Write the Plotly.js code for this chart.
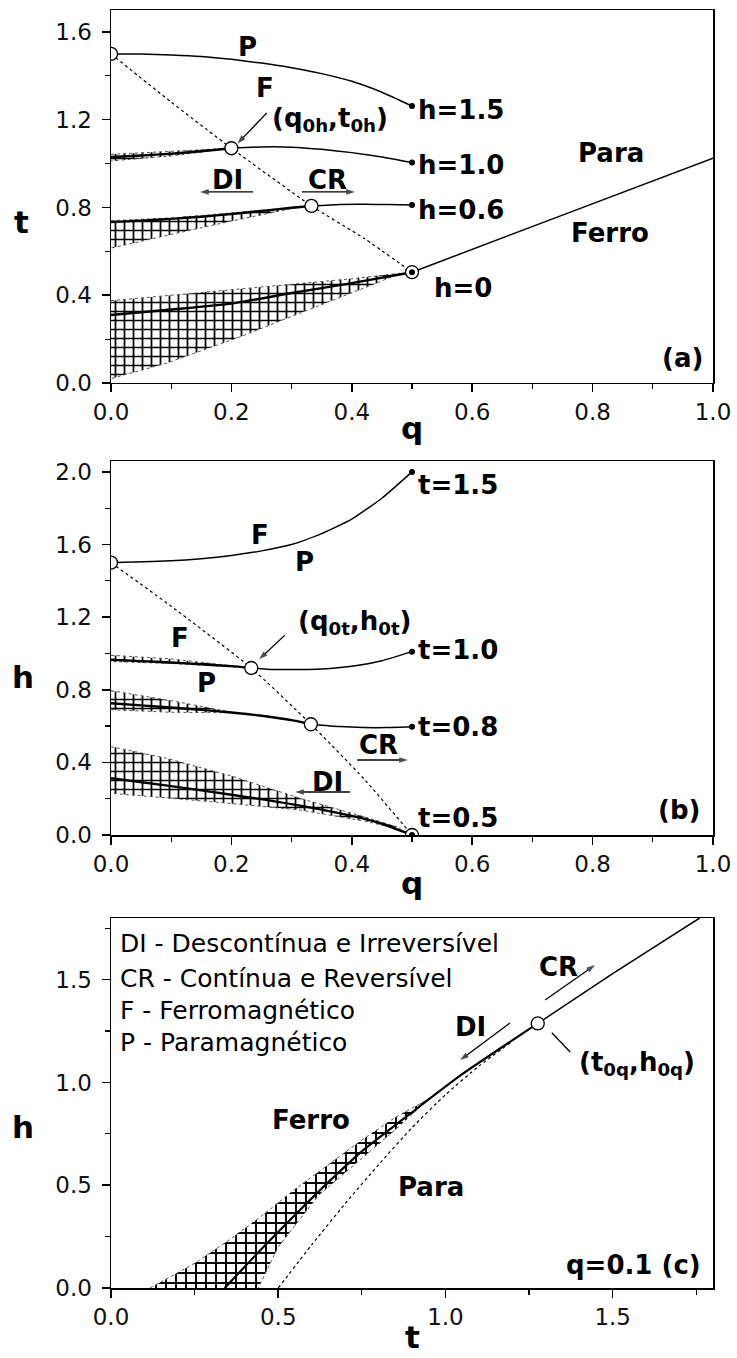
<!DOCTYPE html>
<html>
<head>
<meta charset="utf-8">
<script src="https://cdn.plot.ly/plotly-3.0.1.min.js"></script>
<style>
  html, body { margin: 0; padding: 0; background: #fff; }
  #chart { width: 737px; height: 1358px; }
</style>
</head>
<body>
<div id="chart"></div>
<script>
// ---------- Panel (a): t versus q for fixed h ----------
const qA_h15 = [0, 0.05, 0.1, 0.15, 0.2, 0.25, 0.3, 0.35, 0.4, 0.45, 0.5];
const tA_h15 = [1.5, 1.499, 1.495, 1.488, 1.475, 1.458, 1.437, 1.41, 1.375, 1.325, 1.262];

const qA_h10_DI = [0, 0.05, 0.1, 0.15, 0.2];
const tA_h10_DI = [1.03, 1.037, 1.045, 1.056, 1.07];
const qA_h10_CR = [0.2, 0.25, 0.3, 0.35, 0.4, 0.45, 0.5];
const tA_h10_CR = [1.07, 1.076, 1.075, 1.065, 1.05, 1.03, 1.005];

const qA_h06_DI = [0, 0.05, 0.1, 0.15, 0.2, 0.25, 0.3, 0.333];
const tA_h06_DI = [0.733, 0.74, 0.748, 0.758, 0.77, 0.784, 0.799, 0.807];
const qA_h06_CR = [0.333, 0.38, 0.42, 0.46, 0.5];
const tA_h06_CR = [0.807, 0.814, 0.815, 0.813, 0.811];

const qA_h0 = [0, 0.1, 0.2, 0.3, 0.4, 0.5];
const tA_h0 = [0.31, 0.335, 0.362, 0.41, 0.455, 0.505];

const qA_crit = [0.5, 0.75, 1.0];
const tA_crit = [0.505, 0.765, 1.025];

const qA_tric = [0, 0.1, 0.2, 0.333, 0.42, 0.5];
const tA_tric = [1.5, 1.28, 1.07, 0.807, 0.66, 0.505];

const qA_open = [0, 0.2, 0.333, 0.5];
const tA_open = [1.5, 1.07, 0.807, 0.505];
const qA_end = [0.5, 0.5, 0.5, 0.5];
const tA_end = [1.262, 1.005, 0.811, 0.505];

// hysteresis bands (upper edge left->right, then lower edge right->left)
const qA_band0 = [0, 0.1, 0.2, 0.3, 0.4, 0.48, 0.44, 0.369, 0.292, 0.214, 0.092, 0];
const tA_band0 = [0.375, 0.4, 0.425, 0.45, 0.475, 0.5, 0.454, 0.378, 0.295, 0.21, 0.09, 0.02];
const qA_band06 = [0, 0.1, 0.2, 0.3, 0.333, 0.3, 0.2, 0.1, 0];
const tA_band06 = [0.74, 0.752, 0.775, 0.8, 0.807, 0.795, 0.738, 0.677, 0.615];
const qA_band10 = [0, 0.1, 0.2, 0.1, 0];
const tA_band10 = [1.042, 1.055, 1.07, 1.035, 1.012];

// ---------- Panel (b): h versus q for fixed t ----------
const qB_t15 = [0, 0.1, 0.15, 0.2, 0.25, 0.3, 0.35, 0.4, 0.45, 0.5];
const hB_t15 = [1.5, 1.51, 1.522, 1.54, 1.565, 1.6, 1.66, 1.74, 1.855, 2.0];

const qB_t10_DI = [0, 0.05, 0.1, 0.15, 0.2, 0.233];
const hB_t10_DI = [0.965, 0.958, 0.95, 0.94, 0.93, 0.92];
const qB_t10_CR = [0.233, 0.27, 0.3, 0.35, 0.4, 0.45, 0.5];
const hB_t10_CR = [0.92, 0.912, 0.911, 0.915, 0.93, 0.96, 1.01];

const qB_t08_DI = [0, 0.05, 0.1, 0.15, 0.2, 0.25, 0.3, 0.332];
const hB_t08_DI = [0.726, 0.714, 0.702, 0.689, 0.675, 0.657, 0.633, 0.61];
const qB_t08_CR = [0.332, 0.38, 0.42, 0.46, 0.5];
const hB_t08_CR = [0.61, 0.597, 0.592, 0.592, 0.596];

const qB_t05 = [0, 0.1, 0.2, 0.3, 0.4, 0.45, 0.5];
const hB_t05 = [0.313, 0.269, 0.222, 0.17, 0.105, 0.062, 0.0];

const qB_tric = [0, 0.1, 0.233, 0.332, 0.42, 0.5];
const hB_tric = [1.5, 1.26, 0.92, 0.61, 0.31, 0.0];

const qB_open = [0, 0.233, 0.332, 0.5];
const hB_open = [1.5, 0.92, 0.61, 0.0];
const qB_end = [0.5, 0.5, 0.5, 0.5];
const hB_end = [2.0, 1.01, 0.596, 0.0];

const qB_band05 = [0, 0.092, 0.203, 0.314, 0.425, 0.48, 0.48, 0.425, 0.314, 0.164, 0];
const hB_band05 = [0.487, 0.423, 0.322, 0.202, 0.096, 0.04, 0.03, 0.074, 0.138, 0.184, 0.23];
const qB_band08 = [0, 0.1, 0.2, 0.2, 0.1, 0];
const hB_band08 = [0.795, 0.74, 0.677, 0.673, 0.676, 0.69];
const qB_band10 = [0, 0.1, 0.233, 0.1, 0];
const hB_band10 = [0.99, 0.97, 0.92, 0.945, 0.955];

// ---------- Panel (c): h versus t at q = 0.1 ----------
const tC_DI = [0.34, 0.45, 0.55, 0.65, 0.75, 0.9, 1.05, 1.276];
const hC_DI = [0, 0.19, 0.355, 0.515, 0.665, 0.855, 1.04, 1.287];
const tC_CR = [1.276, 1.5, 1.76];
const hC_CR = [1.287, 1.53, 1.8];
const tC_spin = [0.5, 0.6, 0.7, 0.8, 0.9, 1.0, 1.1, 1.2];
const hC_spin = [0, 0.21, 0.41, 0.6, 0.78, 0.94, 1.08, 1.2];
const tC_band = [0.117, 0.25, 0.35, 0.45, 0.55, 0.65, 0.75, 0.85, 0.95, 0.85, 0.75, 0.62, 0.5, 0.44];
const hC_band = [0, 0.12, 0.23, 0.35, 0.48, 0.6, 0.72, 0.83, 0.92, 0.77, 0.63, 0.45, 0.2, 0];
const tC_open = [1.276];
const hC_open = [1.287];

const legendLines = [
  'DI - Descontínua e Irreversível',
  'CR - Contínua e Reversível',
  'F - Ferromagnético',
  'P - Paramagnético'
];

// ---------- trace helpers ----------
function curve(xa, ya, x, y, width, dash) {
  return { type: 'scatter', mode: 'lines', x: x, y: y, xaxis: xa, yaxis: ya,
           line: { color: '#000', width: width, dash: dash || 'solid', shape: 'spline', smoothing: 0.5 },
           hoverinfo: 'skip' };
}
function band(xa, ya, x, y, size) {
  return { type: 'scatter', mode: 'lines', x: x, y: y, xaxis: xa, yaxis: ya,
           fill: 'toself', fillcolor: 'rgba(255,255,255,0)',
           fillpattern: { shape: '+', size: size, solidity: 0.35, fgcolor: '#000', bgcolor: '#fff', fillmode: 'replace' },
           line: { color: '#555', width: 1, dash: 'dot' }, hoverinfo: 'skip' };
}
function openPts(xa, ya, x, y) {
  return { type: 'scatter', mode: 'markers', x: x, y: y, xaxis: xa, yaxis: ya,
           marker: { symbol: 'circle', size: 13, color: '#fff', line: { color: '#000', width: 1.3 } },
           hoverinfo: 'skip' };
}
function dots(xa, ya, x, y) {
  return { type: 'scatter', mode: 'markers', x: x, y: y, xaxis: xa, yaxis: ya,
           marker: { symbol: 'circle', size: 6, color: '#000' }, hoverinfo: 'skip' };
}
// pointer segment drawn tail -> head, with an arrow marker on the head when wanted
function pointer(xa, ya, x0, y0, x1, y1, head) {
  return { type: 'scatter', mode: head ? 'lines+markers' : 'lines', x: [x0, x1], y: [y0, y1], xaxis: xa, yaxis: ya,
           line: { color: '#000', width: 1.3 }, cliponaxis: false,
           marker: { symbol: 'arrow', angleref: 'previous', size: [0, 9], color: '#000', line: { width: 0 } },
           hoverinfo: 'skip' };
}

const traces = [
  band('x', 'y', qA_band0, tA_band0, 9),
  band('x', 'y', qA_band06, tA_band06, 9),
  band('x', 'y', qA_band10, tA_band10, 9),
  curve('x', 'y', qA_tric, tA_tric, 1.2, 'dot'),
  curve('x', 'y', qA_h15, tA_h15, 1.5),
  curve('x', 'y', qA_h10_DI, tA_h10_DI, 2.4),
  curve('x', 'y', qA_h10_CR, tA_h10_CR, 1.5),
  curve('x', 'y', qA_h06_DI, tA_h06_DI, 2.4),
  curve('x', 'y', qA_h06_CR, tA_h06_CR, 1.5),
  curve('x', 'y', qA_h0, tA_h0, 2.4),
  curve('x', 'y', qA_crit, tA_crit, 1.5),
  openPts('x', 'y', qA_open, tA_open),
  dots('x', 'y', qA_end, tA_end),

  band('x2', 'y2', qB_band05, hB_band05, 9),
  band('x2', 'y2', qB_band08, hB_band08, 9),
  band('x2', 'y2', qB_band10, hB_band10, 9),
  curve('x2', 'y2', qB_tric, hB_tric, 1.2, 'dot'),
  curve('x2', 'y2', qB_t15, hB_t15, 1.5),
  curve('x2', 'y2', qB_t10_DI, hB_t10_DI, 2.4),
  curve('x2', 'y2', qB_t10_CR, hB_t10_CR, 1.5),
  curve('x2', 'y2', qB_t08_DI, hB_t08_DI, 2.4),
  curve('x2', 'y2', qB_t08_CR, hB_t08_CR, 1.5),
  curve('x2', 'y2', qB_t05, hB_t05, 2.4),
  openPts('x2', 'y2', qB_open, hB_open),
  dots('x2', 'y2', qB_end, hB_end),

  band('x3', 'y3', tC_band, hC_band, 10),
  curve('x3', 'y3', tC_spin, hC_spin, 1.2, 'dot'),
  curve('x3', 'y3', tC_DI, hC_DI, 2.2),
  curve('x3', 'y3', tC_CR, hC_CR, 1.5),
  openPts('x3', 'y3', tC_open, hC_open),

  // direction arrows and pointers
  pointer('x', 'y', 0.259, 1.231, 0.21, 1.092, true),
  pointer('x', 'y', 0.236, 0.871, 0.148, 0.871, true),
  pointer('x', 'y', 0.317, 0.871, 0.405, 0.871, true),
  pointer('x2', 'y2', 0.289, 1.101, 0.246, 0.968, true),
  pointer('x2', 'y2', 0.409, 0.413, 0.493, 0.413, true),
  pointer('x2', 'y2', 0.397, 0.237, 0.306, 0.237, true),
  pointer('x3', 'y3', 1.193, 1.289, 1.044, 1.109, true),
  pointer('x3', 'y3', 1.298, 1.401, 1.447, 1.571, true),
  pointer('x3', 'y3', 1.373, 1.148, 1.318, 1.242, false)
];

// ---------- axes ----------
const FONT = 'DejaVu Sans, Verdana, sans-serif';
function axis(extra) {
  return Object.assign({
    ticks: 'outside', ticklen: 8, tickwidth: 1.5, tickcolor: '#000',
    showline: true, mirror: true, linewidth: 1.5, linecolor: '#000',
    showgrid: false, zeroline: false, tickformat: '.1f', tick0: 0,
    tickfont: { family: FONT, size: 23, color: '#111' }, fixedrange: true
  }, extra);
}
function minor(d) { return { dtick: d, ticks: 'outside', ticklen: 5, tickwidth: 1.2, tickcolor: '#000', showgrid: false }; }

// ---------- text labels ----------
const B = s => '<b>' + s + '</b>';
function lab(text, xr, yr, x, y, size, xanchor) {
  return { text: text, xref: xr, yref: yr, x: x, y: y, showarrow: false,
           xanchor: xanchor || 'center', yanchor: 'middle',
           font: { family: FONT, size: size || 26, color: '#000' } };
}

const annotations = [
  // panel (a)
  lab(B('P'), 'x', 'y', 0.226, 1.531),
  lab(B('F'), 'x', 'y', 0.256, 1.345),
  lab(B('(q<sub>0h</sub>,t<sub>0h</sub>)'), 'x', 'y', 0.364, 1.199),
  lab(B('h=1.5'), 'x', 'y', 0.507, 1.244, 26, 'left'),
  lab(B('h=1.0'), 'x', 'y', 0.507, 0.994, 26, 'left'),
  lab(B('h=0.6'), 'x', 'y', 0.507, 0.789, 26, 'left'),
  lab(B('h=0'), 'x', 'y', 0.533, 0.433, 26, 'left'),
  lab(B('Para'), 'x', 'y', 0.831, 1.048),
  lab(B('Ferro'), 'x', 'y', 0.829, 0.684),
  lab(B('(a)'), 'x', 'y', 0.987, 0.114, 26, 'right'),
  lab(B('DI'), 'x', 'y', 0.193, 0.925),
  lab(B('CR'), 'x', 'y', 0.359, 0.925),

  // panel (b)
  lab(B('F'), 'x2', 'y2', 0.248, 1.652),
  lab(B('P'), 'x2', 'y2', 0.322, 1.503),
  lab(B('t=1.5'), 'x2', 'y2', 0.507, 1.927, 26, 'left'),
  lab(B('(q<sub>0t</sub>,h<sub>0t</sub>)'), 'x2', 'y2', 0.405, 1.173),
  lab(B('F'), 'x2', 'y2', 0.115, 1.085),
  lab(B('P'), 'x2', 'y2', 0.159, 0.837),
  lab(B('t=1.0'), 'x2', 'y2', 0.507, 1.019, 26, 'left'),
  lab(B('t=0.8'), 'x2', 'y2', 0.507, 0.595, 26, 'left'),
  lab(B('CR'), 'x2', 'y2', 0.444, 0.496),
  lab(B('DI'), 'x2', 'y2', 0.36, 0.292),
  lab(B('t=0.5'), 'x2', 'y2', 0.507, 0.094, 26, 'left'),
  lab(B('(b)'), 'x2', 'y2', 0.982, 0.138, 26, 'right'),

  // panel (c)
  lab(B('Ferro'), 'x3', 'y3', 0.598, 0.817),
  lab(B('Para'), 'x3', 'y3', 0.957, 0.491),
  lab(B('DI'), 'x3', 'y3', 1.074, 1.269),
  lab(B('CR'), 'x3', 'y3', 1.337, 1.561),
  lab(B('(t<sub>0q</sub>,h<sub>0q</sub>)'), 'x3', 'y3', 1.573, 1.094),
  lab(B('q=0.1 (c)'), 'x3', 'y3', 1.77, 0.112, 26, 'right'),

  // axis titles
  lab(B('t'), 'paper', 'paper', -0.148, 0.834, 31),
  lab(B('q'), 'paper', 'paper', 0.5, 0.673, 31),
  lab(B('h'), 'paper', 'paper', -0.146, 0.478, 31),
  lab(B('q'), 'paper', 'paper', 0.5, 0.317, 31),
  lab(B('h'), 'paper', 'paper', -0.146, 0.126, 31),
  lab(B('t'), 'paper', 'paper', 0.5, -0.038, 31)
];
const legendY = [1.678, 1.508, 1.352, 1.196];
legendLines.forEach((s, i) => annotations.push(lab(s, 'x3', 'y3', 0.021, legendY[i], 25, 'left')));

const layout = {
  width: 737, height: 1358,
  margin: { l: 111, r: 24, t: 10, b: 70 },
  paper_bgcolor: '#fff', plot_bgcolor: '#fff',
  showlegend: false,
  font: { family: FONT, color: '#000' },
  xaxis:  axis({ domain: [0, 1], anchor: 'y',  range: [0, 1],   dtick: 0.2, minor: minor(0.1) }),
  yaxis:  axis({ domain: [0.70814, 1], anchor: 'x', range: [0, 1.7], dtick: 0.4, minor: minor(0.2), ticklabelstandoff: 5 }),
  xaxis2: axis({ domain: [0, 1], anchor: 'y2', range: [0, 1],   dtick: 0.2, minor: minor(0.1) }),
  yaxis2: axis({ domain: [0.35446, 0.6471], anchor: 'x2', range: [0, 2.06], dtick: 0.4, minor: minor(0.2), ticklabelstandoff: 5 }),
  xaxis3: axis({ domain: [0, 1], anchor: 'y3', range: [0, 1.8], dtick: 0.5, minor: minor(0.25) }),
  yaxis3: axis({ domain: [0, 0.28951], anchor: 'x3', range: [0, 1.8], dtick: 0.5, minor: minor(0.25), ticklabelstandoff: 5 }),
  annotations: annotations
};

Plotly.newPlot('chart', traces, layout, { staticPlot: true, displayModeBar: false });
</script>
</body>
</html>
